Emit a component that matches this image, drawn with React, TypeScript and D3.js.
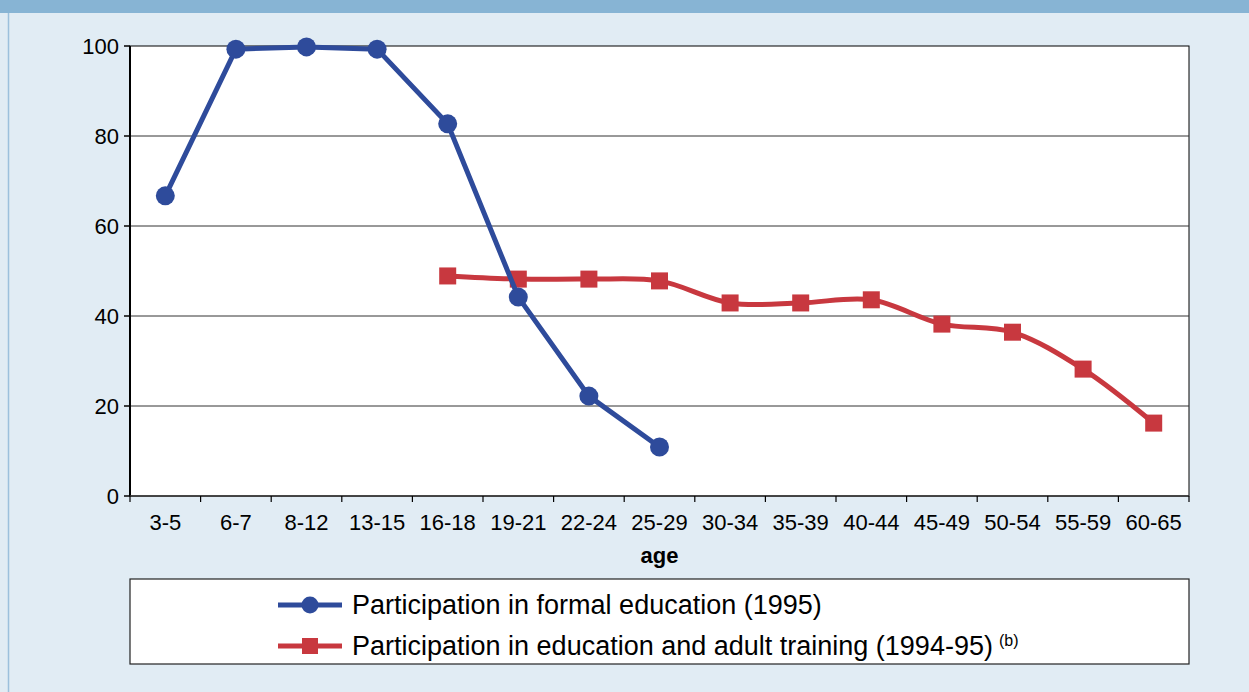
import React from "react";
import * as d3 from "d3";

const categories = ["3-5", "6-7", "8-12", "13-15", "16-18", "19-21", "22-24", "25-29", "30-34", "35-39", "40-44", "45-49", "50-54", "55-59", "60-65"];
const formalEducation: (number | null)[] = [66.7, 99.3, 99.8, 99.3, 82.7, 44.2, 22.2, 10.9, null, null, null, null, null, null, null];
const adultTraining: (number | null)[] = [null, null, null, null, 48.9, 48.2, 48.2, 47.8, 42.9, 42.9, 43.6, 38.2, 36.4, 28.2, 16.2];
const yTicks = [0, 20, 40, 60, 80, 100];
const legendLabels = ["Participation in formal education (1995)", "Participation in education and adult training (1994-95)"];

const W = 1249, H = 692;
const plot = { left: 130, right: 1189, top: 46, bottom: 496 };
const BLUE = "#2e4b9b";
const RED = "#c8383f";
const FONT = "Liberation Sans, Arial, sans-serif";

export default function App() {
  const x = d3.scaleBand<string>().domain(categories).range([plot.left, plot.right]);
  const y = d3.scaleLinear().domain([0, 100]).range([plot.bottom, plot.top]);
  const cx = (c: string) => (x(c) as number) + x.bandwidth() / 2;

  const blue = categories.map((c, i) => ({ c, v: formalEducation[i] })).filter(d => d.v != null) as { c: string; v: number }[];
  const red = categories.map((c, i) => ({ c, v: adultTraining[i] })).filter(d => d.v != null) as { c: string; v: number }[];

  const blueLine = d3.line<{ c: string; v: number }>().x(d => cx(d.c)).y(d => y(d.v));
  const redLine = d3.line<{ c: string; v: number }>().x(d => cx(d.c)).y(d => y(d.v)).curve(d3.curveCatmullRom.alpha(0.5));

  const boundaries = categories.map(c => x(c) as number).concat([plot.right]);

  return (
    <svg width={W} height={H} style={{ position: "absolute", left: 0, top: 0 }} fontFamily={FONT}>
      <rect x={0} y={0} width={W} height={H} fill="#e1ecf4" />
      <rect x={0} y={0} width={W} height={13} fill="#87b4d4" />
      <line x1={8.5} y1={13} x2={8.5} y2={H} stroke="#9cc0dc" strokeWidth={1.5} />

      <rect x={plot.left} y={plot.top} width={plot.right - plot.left} height={plot.bottom - plot.top} fill="#fff" stroke="#000" strokeWidth={1} />
      {yTicks.filter(t => t > 0 && t < 100).map(t => (
        <line key={t} x1={plot.left} x2={plot.right} y1={y(t)} y2={y(t)} stroke="#333" strokeWidth={1} />
      ))}
      <line x1={plot.left} x2={plot.left} y1={plot.top} y2={plot.bottom} stroke="#000" strokeWidth={2} />
      <line x1={plot.left} x2={plot.right} y1={plot.bottom} y2={plot.bottom} stroke="#333" strokeWidth={1.5} />
      {yTicks.map(t => (
        <g key={t}>
          <line x1={plot.left - 6} x2={plot.left} y1={y(t)} y2={y(t)} stroke="#000" strokeWidth={1.5} />
          <text x={plot.left - 11} y={y(t)} dy="0.35em" textAnchor="end" fontSize={22} fill="#000">{t}</text>
        </g>
      ))}
      {boundaries.map((b, i) => (
        <line key={i} x1={b} x2={b} y1={plot.bottom} y2={plot.bottom + 6} stroke="#000" strokeWidth={1.2} />
      ))}
      {categories.map(c => (
        <text key={c} x={cx(c)} y={plot.bottom + 34} textAnchor="middle" fontSize={22} fill="#000">{c}</text>
      ))}
      <text x={(plot.left + plot.right) / 2} y={563} textAnchor="middle" fontSize={22} fontWeight="bold" fill="#000">age</text>

      <path d={redLine(red) || ""} fill="none" stroke={RED} strokeWidth={5} />
      {red.map(d => (
        <rect key={d.c} x={cx(d.c) - 8.5} y={y(d.v) - 8.5} width={17} height={17} fill={RED} />
      ))}
      <path d={blueLine(blue) || ""} fill="none" stroke={BLUE} strokeWidth={5} />
      {blue.map(d => (
        <circle key={d.c} cx={cx(d.c)} cy={y(d.v)} r={9.5} fill={BLUE} />
      ))}

      <rect x={plot.left} y={579} width={plot.right - plot.left} height={85} fill="#fff" stroke="#222" strokeWidth={1.2} />
      <line x1={278} x2={342} y1={605} y2={605} stroke={BLUE} strokeWidth={5} />
      <circle cx={310} cy={605} r={8.5} fill={BLUE} />
      <text x={352} y={605} dy="0.35em" fontSize={27} fill="#000">{legendLabels[0]}</text>
      <line x1={278} x2={342} y1={646} y2={646} stroke={RED} strokeWidth={5} />
      <rect x={302} y={638} width={16} height={16} fill={RED} />
      <text x={352} y={646} dy="0.35em" fontSize={27} fill="#000">
        {legendLabels[1]}
        <tspan dx={6} dy={-9} fontSize={16}>(b)</tspan>
      </text>
    </svg>
  );
}
